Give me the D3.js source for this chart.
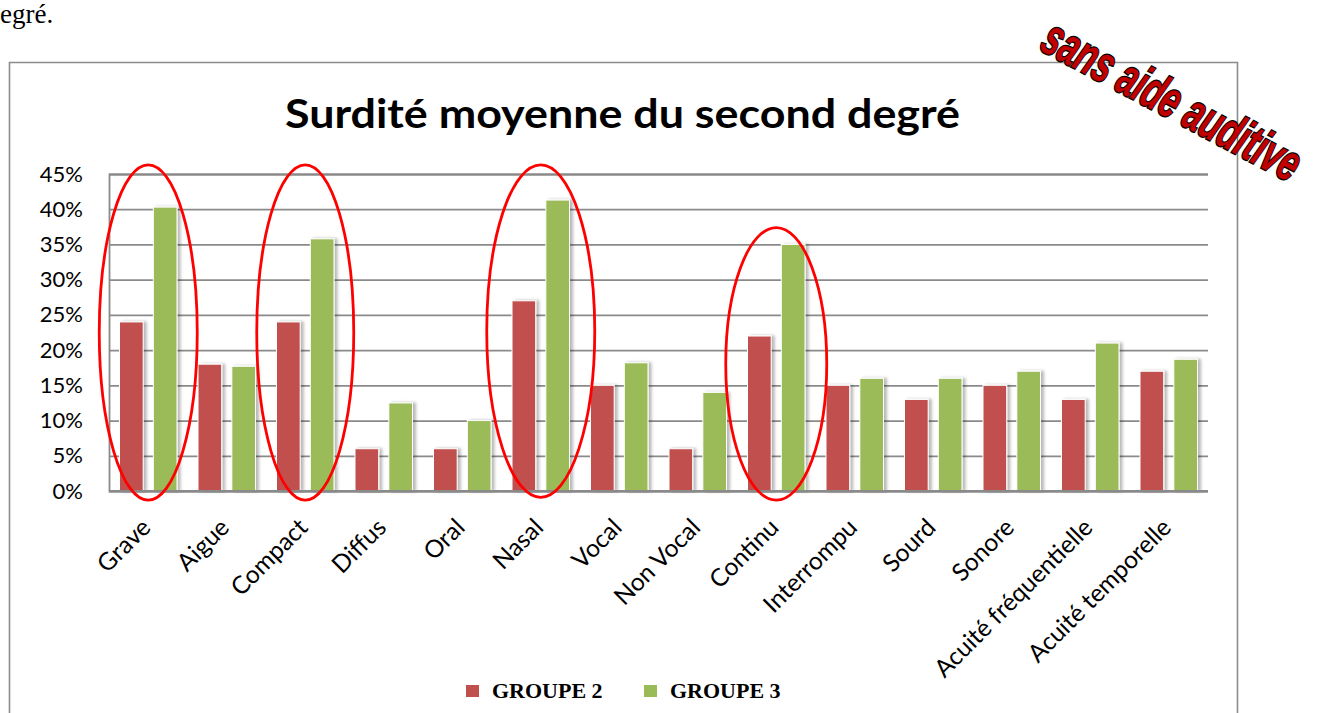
<!DOCTYPE html>
<html>
<head>
<meta charset="utf-8">
<script src="https://cdn.jsdelivr.net/npm/d3@7"></script>
<style>
  html, body { margin: 0; padding: 0; background: #fff; overflow: hidden; }
  svg { display: block; }
</style>
</head>
<body>
<svg id="chart" width="1323" height="713"></svg>
<script>
// Categories (phonetic features) and the share of each group, in percent
const categories = ["Grave", "Aigue", "Compact", "Diffus", "Oral", "Nasal", "Vocal",
  "Non Vocal", "Continu", "Interrompu", "Sourd", "Sonore",
  "Acuité fréquentielle", "Acuité temporelle"];
const seriesNames = ["GROUPE 2", "GROUPE 3"];
const groupe2 = [24, 18, 24, 6, 6, 27, 15, 6, 22, 15, 13, 15, 13, 17];
const groupe3 = [40.3, 17.7, 35.8, 12.5, 10, 41.3, 18.2, 14, 35, 16, 16, 17, 21, 18.7];
const yTicks = [0, 5, 10, 15, 20, 25, 30, 35, 40, 45];
const seriesColors = ["#C0504D", "#9BBB59"];

// Circled categories: vertical extent of each ring, in percent
const circled = ["Grave", "Compact", "Nasal", "Continu"];
const circleTop = [46.3, 46.3, 46.3, 37.4];
const circleBottom = [-1.3, -1.3, -0.9, -1.3];
const circleHalfWidth = [49, 48.5, 54, 50.5];

const svg = d3.select("#chart");

// page text fragment above the chart
svg.append("text")
  .attr("x", 0).attr("y", 23)
  .attr("font-family", "'Liberation Serif', 'Times New Roman', serif")
  .attr("font-size", 27)
  .attr("fill", "#000")
  .text("egré.");

// chart frame
svg.append("path")
  .attr("d", "M9.5,716 V62.5 H1237.5 V716")
  .attr("fill", "none")
  .attr("stroke", "#8c8c8c")
  .attr("stroke-width", 1.6);

const defs = svg.append("defs");
const shadow = defs.append("filter").attr("id", "barShadow")
  .attr("x", "-30%").attr("y", "-5%").attr("width", "160%").attr("height", "110%");
shadow.append("feDropShadow")
  .attr("dx", 3).attr("dy", 0).attr("stdDeviation", 1.6)
  .attr("flood-color", "#000").attr("flood-opacity", 0.28);
const soft = defs.append("filter").attr("id", "soft");
soft.append("feGaussianBlur").attr("stdDeviation", 0.6);

// plot area
const plot = { left: 109, right: 1208, top: 174, bottom: 491 };

const x0 = d3.scaleBand().domain(categories).range([plot.left, plot.right]).padding(0);
const x1 = d3.scaleBand().domain(seriesNames)
  .range([10.5, x0.bandwidth() - 10.5]).paddingInner(0.3);
const y = d3.scaleLinear().domain([0, 45]).range([plot.bottom, plot.top]);

// title
svg.append("text")
  .attr("x", 622.5).attr("y", 128)
  .attr("text-anchor", "middle")
  .attr("font-family", "Lato, 'Open Sans', sans-serif")
  .attr("font-weight", "bold")
  .attr("font-size", 41)
  .attr("textLength", 675)
  .attr("lengthAdjust", "spacingAndGlyphs")
  .attr("fill", "#000")
  .text("Surdité moyenne du second degré");

// gridlines and value axis
const yAxis = d3.axisLeft(y).tickValues(yTicks)
  .tickSize(-(plot.right - plot.left))
  .tickPadding(26)
  .tickFormat(d => d + "%");
const gy = svg.append("g")
  .attr("transform", `translate(${plot.left},0)`)
  .call(yAxis);
gy.select(".domain").attr("stroke", "#8a8a8a").attr("stroke-width", 1.8);
gy.selectAll(".tick line").attr("stroke", "#8a8a8a").attr("stroke-width", 1.8);
gy.selectAll(".tick text")
  .attr("font-family", "Lato, 'Open Sans', sans-serif")
  .attr("font-size", 22)
  .attr("fill", "#000");

// bars
const rows = categories.map((c, i) => ({ cat: c, vals: [groupe2[i], groupe3[i]] }));
const groups = svg.append("g").selectAll("g")
  .data(rows).join("g")
  .attr("transform", d => `translate(${x0(d.cat)},0)`);
groups.selectAll("rect")
  .data(d => d.vals.map((v, k) => ({ name: seriesNames[k], v, k })))
  .join("rect")
  .attr("x", d => x1(d.name))
  .attr("y", d => y(d.v))
  .attr("width", x1.bandwidth())
  .attr("height", d => y(0) - y(d.v))
  .attr("fill", d => seriesColors[d.k])
  .attr("stroke", "#fff")
  .attr("stroke-width", 1)
  .attr("filter", "url(#barShadow)");

// category axis line
svg.append("line")
  .attr("x1", plot.left).attr("x2", plot.right)
  .attr("y1", y(0)).attr("y2", y(0))
  .attr("stroke", "#8a8a8a").attr("stroke-width", 2.2);

// category labels
svg.append("g").selectAll("text")
  .data(categories).join("text")
  .attr("transform", d => `translate(${x0(d) + x0.bandwidth() / 2 + 4},${plot.bottom + 38}) rotate(-45)`)
  .attr("text-anchor", "end")
  .attr("font-family", "Lato, 'Open Sans', sans-serif")
  .attr("font-size", 24.5)
  .attr("fill", "#000")
  .text(d => d);

// red rings around the highlighted categories
svg.append("g").selectAll("ellipse")
  .data(circled.map((c, i) => ({ c, top: circleTop[i], bottom: circleBottom[i], hw: circleHalfWidth[i] })))
  .join("ellipse")
  .attr("cx", d => x0(d.c) + x0.bandwidth() / 2)
  .attr("cy", d => (y(d.top) + y(d.bottom)) / 2)
  .attr("rx", d => d.hw)
  .attr("ry", d => (y(d.bottom) - y(d.top)) / 2)
  .attr("fill", "none")
  .attr("stroke", "#ff0000")
  .attr("stroke-width", 2.8)
  .attr("filter", "url(#soft)");

// legend
const legend = svg.append("g").selectAll("g")
  .data(seriesNames).join("g")
  .attr("transform", (d, i) => `translate(${466 + i * 178},685)`);
legend.append("rect")
  .attr("width", 13).attr("height", 12)
  .attr("fill", (d, i) => seriesColors[i]);
legend.append("text")
  .attr("x", 26).attr("y", 13)
  .attr("font-family", "'Liberation Serif', 'Times New Roman', serif")
  .attr("font-weight", "bold")
  .attr("font-size", 22)
  .attr("fill", "#000")
  .text(d => d);

// condensed, slanted stamp in the top-right corner
svg.append("text")
  .attr("transform", "translate(1038,49) rotate(28) scale(0.636,1)")
  .attr("font-family", "'Liberation Sans', Arial, sans-serif")
  .attr("font-weight", "bold")
  .attr("font-style", "italic")
  .attr("font-size", 52)
  .attr("fill", "#C00000")
  .attr("stroke", "#000")
  .attr("stroke-width", 2.6)
  .attr("paint-order", "stroke")
  .text("sans aide auditive");
</script>
</body>
</html>
